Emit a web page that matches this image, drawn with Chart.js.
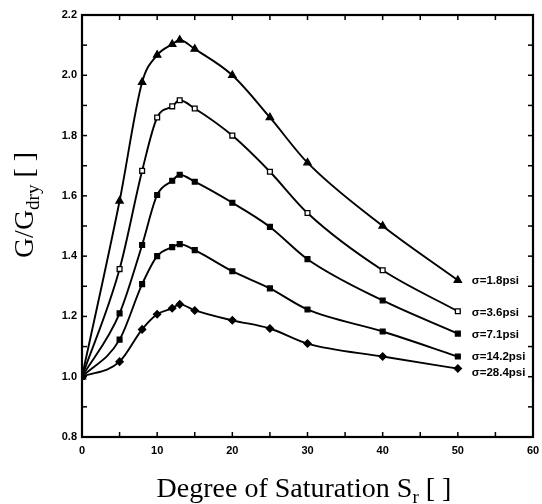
<!DOCTYPE html>
<html><head><meta charset="utf-8">
<script src="https://cdn.jsdelivr.net/npm/chart.js@4/dist/chart.umd.min.js"></script>
<style>html,body{margin:0;padding:0;background:#fff}#wrap{width:542px;height:504px;position:relative}</style>
</head><body><div id="wrap"><canvas id="c" width="542" height="504"></canvas></div>
<script>
const saturation = [0, 5, 8, 10, 12, 13, 15, 20, 25, 30, 40, 50];
const g_1_8  = [1.00, 1.583, 1.977, 2.067, 2.103, 2.117, 2.087, 2.000, 1.860, 1.710, 1.500, 1.320];
const g_3_6  = [1.00, 1.357, 1.683, 1.860, 1.897, 1.917, 1.890, 1.800, 1.680, 1.543, 1.353, 1.217];
const g_7_1  = [1.00, 1.210, 1.437, 1.603, 1.650, 1.670, 1.647, 1.577, 1.497, 1.390, 1.253, 1.143];
const g_14_2 = [1.00, 1.123, 1.307, 1.400, 1.430, 1.440, 1.420, 1.350, 1.293, 1.223, 1.150, 1.067];
const g_28_4 = [1.00, 1.050, 1.157, 1.207, 1.227, 1.240, 1.220, 1.187, 1.160, 1.110, 1.067, 1.027];
const seriesLabels = ["σ=1.8psi", "σ=3.6psi", "σ=7.1psi", "σ=14.2psi", "σ=28.4psi"];
const seriesValues = [g_1_8, g_3_6, g_7_1, g_14_2, g_28_4];
const seriesMarkers = ["triangle", "rect", "rect", "rect", "rectRot"];
const seriesFill = ["#000", "#fff", "#000", "#000", "#000"];
const labelShift = [1, 2, 1, 0, 4];
const xTickLabels = [0, 10, 20, 30, 40, 50, 60];
const yTickLabels = [0.8, 1.0, 1.2, 1.4, 1.6, 1.8, 2.0, 2.2];

const datasets = seriesValues.map((vals, i) => ({
  label: seriesLabels[i],
  data: saturation.map((s, k) => ({x: s, y: vals[k]})),
  borderColor: "#000",
  borderWidth: 1.9,
  backgroundColor: seriesFill[i],
  pointStyle: seriesMarkers[i],
  pointRadius: seriesMarkers[i] === "triangle" ? 4.2 : (seriesMarkers[i] === "rectRot" ? 3.6 : 3.4),
  pointBorderColor: "#000",
  pointBorderWidth: 1.3,
  pointBackgroundColor: seriesFill[i],
  cubicInterpolationMode: "monotone",
  fill: false
}));

const framePlugin = {
  id: "frame",
  afterDraw(chart) {
    const {ctx, chartArea: a, scales: {x, y}} = chart;
    ctx.save();
    ctx.strokeStyle = "#000";
    ctx.lineWidth = 1.5;
    for (let v = 0; v <= 60; v += 5) {
      const px = x.getPixelForValue(v);
      ctx.beginPath(); ctx.moveTo(px, a.bottom); ctx.lineTo(px, a.bottom - 5); ctx.stroke();
      ctx.beginPath(); ctx.moveTo(px, a.top); ctx.lineTo(px, a.top + 5); ctx.stroke();
    }
    for (let k = 8; k <= 22; k++) {
      const py = y.getPixelForValue(k / 10);
      ctx.beginPath(); ctx.moveTo(a.left, py); ctx.lineTo(a.left + 5, py); ctx.stroke();
      ctx.beginPath(); ctx.moveTo(a.right, py); ctx.lineTo(a.right - 5, py); ctx.stroke();
    }
    ctx.lineWidth = 2.2;
    ctx.strokeRect(a.left, a.top, a.right - a.left, a.bottom - a.top);
    ctx.restore();
  }
};

const labelPlugin = {
  id: "seriesLabels",
  afterDatasetsDraw(chart) {
    const ctx = chart.ctx;
    ctx.save();
    ctx.fillStyle = "#000";
    ctx.font = "bold 11.5px 'Liberation Sans', Arial, sans-serif";
    ctx.textBaseline = "middle";
    ctx.textAlign = "left";
    chart.data.datasets.forEach((ds, i) => {
      const meta = chart.getDatasetMeta(i);
      const pt = meta.data[meta.data.length - 1];
      ctx.fillText(ds.label, pt.x + 14, pt.y + labelShift[i]);
    });
    ctx.restore();
  }
};

function drawSubText(ctx, parts, x, y, size) {
  let total = 0;
  const fontOf = sub => (sub ? Math.round(size * 0.68) : size) + "px 'Liberation Serif', 'Times New Roman', serif";
  const widths = parts.map(([t, sub]) => {
    ctx.font = fontOf(sub);
    const w = ctx.measureText(t).width; total += w; return w;
  });
  let cx = x - total / 2;
  parts.forEach(([t, sub], i) => {
    ctx.font = fontOf(sub);
    ctx.fillText(t, cx, sub ? y + size * 0.2 : y);
    cx += widths[i];
  });
}

const titlePlugin = {
  id: "titles",
  afterDraw(chart) {
    const ctx = chart.ctx;
    ctx.save();
    ctx.fillStyle = "#000";
    ctx.textBaseline = "alphabetic";
    ctx.textAlign = "left";
    drawSubText(ctx, [["Degree of Saturation S", false], ["r", true], [" [ ]", false]], 304, 497, 28);
    ctx.translate(33, 205);
    ctx.rotate(-Math.PI / 2);
    drawSubText(ctx, [["G/G", false], ["dry", true], [" [ ]", false]], 0, 0, 28);
    ctx.restore();
  }
};

new Chart(document.getElementById("c"), {
  type: "scatter",
  data: {datasets},
  options: {
    responsive: false,
    devicePixelRatio: 1,
    animation: false,
    showLine: true,
    layout: {padding: {left: 0, top: 15, right: 9, bottom: 0}},
    plugins: {legend: {display: false}, tooltip: {enabled: false}},
    scales: {
      x: {
        type: "linear", min: 0, max: 60,
        afterBuildTicks: s => { s.ticks = xTickLabels.map(v => ({value: v})); },
        afterFit: s => { s.height = 67; s.paddingLeft = 0; s.paddingRight = 0; },
        grid: {display: false, drawTicks: false},
        border: {display: false},
        ticks: {color: "#000", padding: 7, maxRotation: 0, font: {family: "'Liberation Sans', Arial, sans-serif", size: 11, weight: "bold"}}
      },
      y: {
        type: "linear", min: 0.8, max: 2.2,
        afterBuildTicks: s => { s.ticks = yTickLabels.map(v => ({value: v})); },
        afterFit: s => { s.width = 82; s.paddingTop = 0; s.paddingBottom = 0; },
        grid: {display: false, drawTicks: false},
        border: {display: false},
        ticks: {color: "#000", padding: 5, callback: v => Number(v).toFixed(1), font: {family: "'Liberation Sans', Arial, sans-serif", size: 11, weight: "bold"}}
      }
    }
  },
  plugins: [framePlugin, labelPlugin, titlePlugin]
});
</script></body></html>
